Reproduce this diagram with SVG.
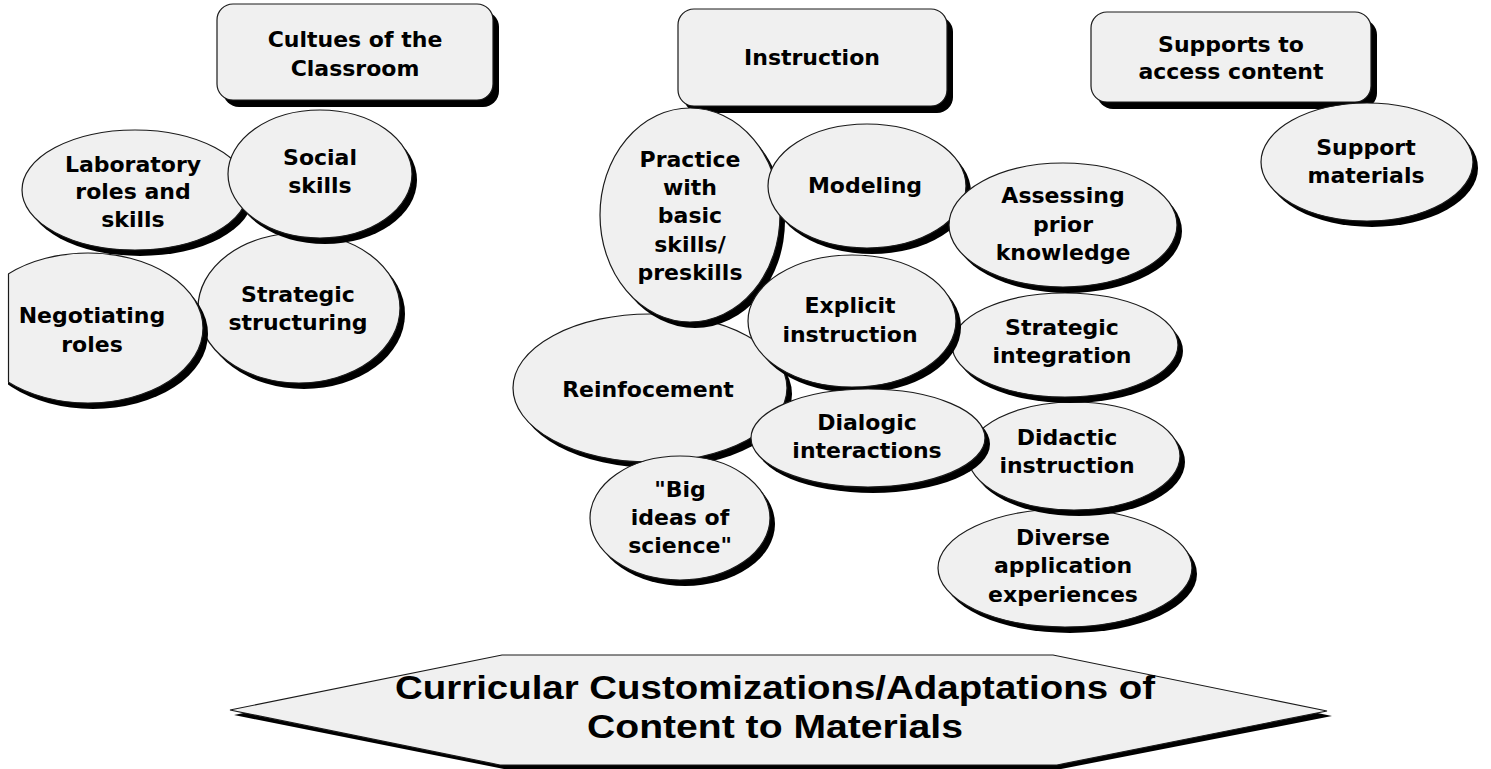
<svg xmlns="http://www.w3.org/2000/svg" width="1491" height="769" viewBox="0 0 1491 769">
<style>
.sh{fill:#000}
.nd{fill:#f0f0f0;stroke:#1a1a1a;stroke-width:1.2}
.t{font-family:"DejaVu Sans","Liberation Sans",sans-serif;font-weight:bold;font-size:22px;text-anchor:middle;fill:#000}
.big{font-family:"Liberation Sans",Arial,sans-serif;font-weight:bold;font-size:34px;text-anchor:middle;fill:#000}
</style>
<defs>
<clipPath id="clipL"><rect x="8" y="0" width="400" height="769"/></clipPath>
</defs>
<rect width="1491" height="769" fill="#fff"/>
<g id="connectors"/>

<g id="box-cultures">
<rect class="sh" x="223" y="11" width="276" height="96" rx="16"/>
<rect class="nd" x="217" y="4" width="276" height="96" rx="16"/>
<text class="t" x="355" y="47">Cultues of the</text>
<text class="t" x="355" y="76">Classroom</text>
</g>

<g id="box-instruction">
<rect class="sh" x="684" y="16" width="269" height="97" rx="16"/>
<rect class="nd" x="678" y="9" width="269" height="97" rx="16"/>
<text class="t" x="812" y="65">Instruction</text>
</g>

<g id="box-supports">
<rect class="sh" x="1097" y="19" width="280" height="90" rx="16"/>
<rect class="nd" x="1091" y="12" width="280" height="90" rx="16"/>
<text class="t" x="1231" y="52">Supports to</text>
<text class="t" x="1231" y="79">access content</text>
</g>

<g id="support-materials">
<ellipse class="sh" cx="1372" cy="168" rx="106" ry="59"/>
<ellipse class="nd" cx="1367" cy="162" rx="106" ry="59"/>
<text class="t" x="1366" y="155">Support</text>
<text class="t" x="1366" y="183">materials</text>
</g>

<g id="strategic-structuring">
<ellipse class="sh" cx="304" cy="314" rx="101" ry="75"/>
<ellipse class="nd" cx="299" cy="308" rx="101" ry="75"/>
<text class="t" x="298" y="302">Strategic</text>
<text class="t" x="298" y="330">structuring</text>
</g>

<g id="negotiating-roles">
<g clip-path="url(#clipL)">
<ellipse class="sh" cx="93" cy="334" rx="115" ry="75"/>
<ellipse class="nd" cx="88" cy="328" rx="115" ry="75"/>
</g>
<line x1="8.5" y1="274" x2="8.5" y2="382" stroke="#1a1a1a" stroke-width="1.2"/>
<text class="t" x="92" y="323">Negotiating</text>
<text class="t" x="92" y="352">roles</text>
</g>

<g id="laboratory-roles">
<ellipse class="sh" cx="140" cy="196" rx="113" ry="60"/>
<ellipse class="nd" cx="135" cy="190" rx="113" ry="60"/>
<text class="t" x="133" y="172">Laboratory</text>
<text class="t" x="133" y="199">roles and</text>
<text class="t" x="133" y="227">skills</text>
</g>

<g id="social-skills">
<ellipse class="sh" cx="325" cy="180" rx="92" ry="64"/>
<ellipse class="nd" cx="320" cy="174" rx="92" ry="64"/>
<text class="t" x="320" y="165">Social</text>
<text class="t" x="320" y="193">skills</text>
</g>

<g id="reinfocement">
<ellipse class="sh" cx="655" cy="394" rx="137" ry="74"/>
<ellipse class="nd" cx="650" cy="388" rx="137" ry="74"/>
<text class="t" x="648" y="397">Reinfocement</text>
</g>

<g id="practice">
<ellipse class="sh" cx="695" cy="221" rx="90" ry="107"/>
<ellipse class="nd" cx="690" cy="215" rx="90" ry="107"/>
<text class="t" x="690" y="167">Practice</text>
<text class="t" x="690" y="195">with</text>
<text class="t" x="690" y="223">basic</text>
<text class="t" x="690" y="252">skills/</text>
<text class="t" x="690" y="280">preskills</text>
</g>

<g id="modeling">
<ellipse class="sh" cx="872" cy="192" rx="99" ry="62"/>
<ellipse class="nd" cx="867" cy="186" rx="99" ry="62"/>
<text class="t" x="865" y="193">Modeling</text>
</g>

<g id="diverse">
<ellipse class="sh" cx="1070" cy="574" rx="127" ry="59"/>
<ellipse class="nd" cx="1065" cy="568" rx="127" ry="59"/>
<text class="t" x="1063" y="545">Diverse</text>
<text class="t" x="1063" y="573">application</text>
<text class="t" x="1063" y="602">experiences</text>
</g>

<g id="didactic">
<ellipse class="sh" cx="1079" cy="462" rx="106" ry="54"/>
<ellipse class="nd" cx="1074" cy="456" rx="106" ry="54"/>
<text class="t" x="1067" y="445">Didactic</text>
<text class="t" x="1067" y="473">instruction</text>
</g>

<g id="strategic-integration">
<ellipse class="sh" cx="1070" cy="351" rx="113" ry="52"/>
<ellipse class="nd" cx="1065" cy="345" rx="113" ry="52"/>
<text class="t" x="1062" y="335">Strategic</text>
<text class="t" x="1062" y="363">integration</text>
</g>

<g id="assessing">
<ellipse class="sh" cx="1068" cy="231" rx="114" ry="62"/>
<ellipse class="nd" cx="1063" cy="225" rx="114" ry="62"/>
<text class="t" x="1063" y="203">Assessing</text>
<text class="t" x="1063" y="232">prior</text>
<text class="t" x="1063" y="260">knowledge</text>
</g>

<g id="explicit">
<ellipse class="sh" cx="857" cy="327" rx="104" ry="66"/>
<ellipse class="nd" cx="852" cy="321" rx="104" ry="66"/>
<text class="t" x="850" y="313">Explicit</text>
<text class="t" x="850" y="342">instruction</text>
</g>

<g id="dialogic">
<ellipse class="sh" cx="873" cy="444" rx="117" ry="49"/>
<ellipse class="nd" cx="868" cy="438" rx="117" ry="49"/>
<text class="t" x="867" y="430">Dialogic</text>
<text class="t" x="867" y="458">interactions</text>
</g>

<g id="big-ideas">
<ellipse class="sh" cx="685" cy="524" rx="90" ry="62"/>
<ellipse class="nd" cx="680" cy="518" rx="90" ry="62"/>
<text class="t" x="680" y="497">"Big</text>
<text class="t" x="680" y="525">ideas of</text>
<text class="t" x="680" y="553">science"</text>
</g>

<g id="curricular">
<polygon class="sh" points="234,715 506,660 1057,660 1332,716 1061,769 504,769"/>
<polygon class="nd" points="230,710 502,655 1053,655 1327,711 1057,765 500,765"/>
<text class="big" x="775" y="699" textLength="760" lengthAdjust="spacingAndGlyphs">Curricular Customizations/Adaptations of</text>
<text class="big" x="775" y="738" textLength="376" lengthAdjust="spacingAndGlyphs">Content to Materials</text>
</g>
</svg>
